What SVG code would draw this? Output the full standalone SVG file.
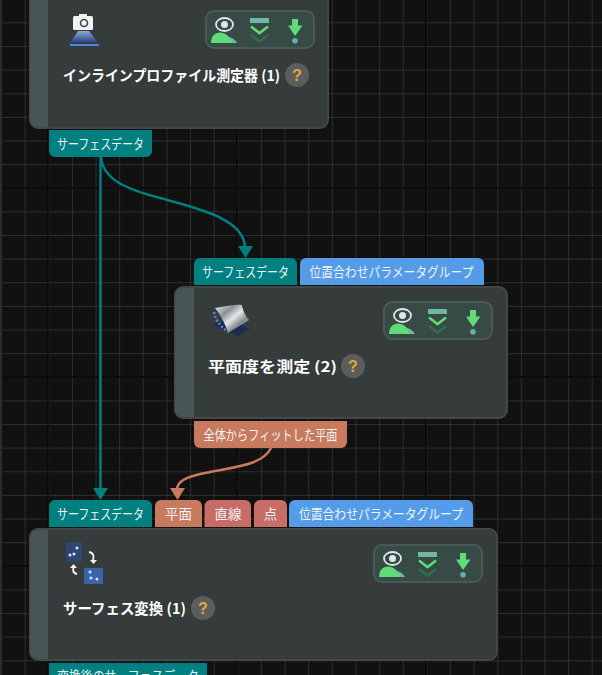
<svg xmlns="http://www.w3.org/2000/svg" xmlns:xlink="http://www.w3.org/1999/xlink" width="602" height="675" viewBox="0 0 602 675">
<style>
.body{fill:#363c3b;stroke:#414847;stroke-width:2}
.strip{fill:#475654}
.title{font-family:"Noto Sans CJK JP","Noto Sans",sans-serif;font-size:14.500px;font-weight:700;fill:#fff}
.port{font-family:"Noto Sans CJK JP","Noto Sans",sans-serif;font-size:13.500px;fill:#eef4f3;text-anchor:middle}
.teal{fill:#008080}.blue{fill:#559ce8}.salmon{fill:#c77a5d}.rose{fill:#c76c66}
.help{fill:#5a5e5d}
.q{font-family:"Liberation Sans",sans-serif;font-size:16px;font-weight:700;fill:#e3a83e;text-anchor:middle}
.conn{fill:none;stroke-width:2.500}
</style>
<defs>
<pattern id="minor" x="1" y="-1.300" width="23.630" height="23.630" patternUnits="userSpaceOnUse">
<path d="M0 0H23.630M0 0V23.630" fill="none" stroke="#373737" stroke-width="1.400"/>
</pattern>
<linearGradient id="beam" x1="0" y1="0" x2="0" y2="1"><stop offset="0" stop-color="#8fa8d8"/><stop offset="1" stop-color="#24407c"/></linearGradient>
<linearGradient id="sheet" x1="0" y1="0" x2="1" y2="1"><stop offset="0" stop-color="#e8e8e8"/><stop offset=".3" stop-color="#8d9197"/><stop offset=".5" stop-color="#e6e6e6"/><stop offset=".7" stop-color="#83878d"/><stop offset="1" stop-color="#c6c8ca"/></linearGradient>
<g id="toolbar">
<rect x="1" y="1" width="108" height="37" rx="8" fill="#374a46" stroke="#475a56" stroke-width="2"/>
<ellipse cx="19.500" cy="14.500" rx="8.500" ry="6.500" fill="none" stroke="#dfe7ea" stroke-width="1.800"/>
<circle cx="19.500" cy="14.500" r="3.500" fill="#dfe7ea"/>
<path d="M15 33C18 25.500 28 25 32 33Z" fill="#6fb8a0"/>
<path d="M6 33C6 26 10 22.500 15 22.500C20 22.500 25 26 27 33Z" fill="#5fdc78"/>
<rect x="45" y="8" width="19" height="5" fill="#6fb8a0"/>
<path d="M46 16.500L54.500 23L63 16.500" fill="none" stroke="#5fdc78" stroke-width="2.600"/>
<path d="M46 25L54.500 31.500L63 25" fill="none" stroke="#2f6e4c" stroke-width="2.600"/>
<path d="M87 9H93V15.500H97.500L90 26L83 15.500H87Z" fill="#5fdc78"/>
<circle cx="90" cy="30.700" r="2.800" fill="#5cb5a0"/>
</g>
</defs>
<rect width="602" height="675" fill="#111"/>
<rect width="602" height="675" fill="url(#minor)"/>
<g stroke="#060606" stroke-width="1.400" fill="none">
<path d="M48 0V675M237 0V675M426 0V675M0 -1H602M0 188H602M0 377H602M0 566H602"/>
</g>
<rect x="0" y="0" width="2" height="675" fill="#2a2d2c"/>
<g id="connectors">
<path class="conn" stroke="#008080" d="M100.500 157V490"/>
<path d="M93 488H108L100.500 500Z" fill="#008080"/>
<path class="conn" stroke="#008080" d="M101 157C103 181 130 190 160 198C195 208 245 218 245 248"/>
<path d="M238 246H253L245.500 258Z" fill="#008080"/>
<path class="conn" stroke="#c77a5d" d="M271 448C262 466 232 467 205 473C186 477 177 481 177 490"/>
<path d="M170 488H185L177.500 500Z" fill="#c77a5d"/>
</g>
<g id="node-inline-profiler">
<path class="body" d="M30 -10H328V120a8 8 0 0 1 -8 8H38a8 8 0 0 1 -8 -8Z"/>
<path class="strip" d="M30 -10H48V127H38a8 8 0 0 1 -8 -8Z"/>
<rect x="73" y="16" width="20" height="14" rx="1.500" fill="#f2f2f2"/>
<rect x="79" y="14" width="8" height="3" fill="#f2f2f2"/>
<circle cx="84" cy="23" r="3.500" fill="none" stroke="#444" stroke-width="1.600"/>
<path d="M78 31H89L98 43H70Z" fill="url(#beam)"/>
<rect x="70" y="44" width="29" height="2" fill="#4f86e0"/>
<use xlink:href="#toolbar" href="#toolbar" transform="translate(205 10)"/>
<text class="title" x="63" y="81" textLength="217" lengthAdjust="spacingAndGlyphs">インラインプロファイル測定器 (1)</text>
<circle class="help" cx="297" cy="75" r="12"/>
<text class="q" x="297" y="81">?</text>
</g>
<g id="port-out-1">
<path class="teal" d="M49 130H152V151a6 6 0 0 1 -6 6H55a6 6 0 0 1 -6 -6Z"/>
<text class="port" x="100.500" y="148.500" textLength="87" lengthAdjust="spacingAndGlyphs">サーフェスデータ</text>
</g>
<g id="port-in-2a">
<path class="teal" d="M194 285V264a6 6 0 0 1 6 -6H291a6 6 0 0 1 6 6V285Z"/>
<text class="port" x="245.500" y="276.500" textLength="87" lengthAdjust="spacingAndGlyphs">サーフェスデータ</text>
</g>
<g id="port-in-2b">
<path class="blue" d="M300 285V264a6 6 0 0 1 6 -6H478a6 6 0 0 1 6 6V285Z"/>
<text class="port" x="391.500" y="277" textLength="164" lengthAdjust="spacingAndGlyphs">位置合わせパラメータグループ</text>
</g>
<g id="node-flatness">
<rect class="body" x="175" y="287" width="332" height="131" rx="8"/>
<path class="strip" d="M183 288H194V417H183a8 8 0 0 1 -8 -8V296a8 8 0 0 1 8 -8Z"/>
<path d="M213 325L238 336L250 329L228 319Z" fill="#1c2c50"/>
<path d="M215 308C223 307 235 304 242 305C243 312 246 316 249 320L228 333C226 325 220 314 215 308Z" fill="url(#sheet)"/>
<path d="M214 312C215 320 222 328 228 332" fill="none" stroke="#4f86e0" stroke-width="2.500" stroke-dasharray="2 2"/>
<use xlink:href="#toolbar" href="#toolbar" transform="translate(383 301)"/>
<text class="title" x="208" y="372" textLength="129" lengthAdjust="spacingAndGlyphs">平面度を測定 (2)</text>
<circle class="help" cx="353" cy="366" r="12"/>
<text class="q" x="353" y="372">?</text>
</g>
<g id="port-out-2">
<path class="salmon" d="M194 421H347V442a6 6 0 0 1 -6 6H200a6 6 0 0 1 -6 -6Z"/>
<text class="port" x="270.500" y="439.500" textLength="134" lengthAdjust="spacingAndGlyphs">全体からフィットした平面</text>
</g>
<g id="port-in-3a">
<path class="teal" d="M49 527V506a6 6 0 0 1 6 -6H146a6 6 0 0 1 6 6V527Z"/>
<text class="port" x="100.500" y="518.500" textLength="87" lengthAdjust="spacingAndGlyphs">サーフェスデータ</text>
</g>
<g id="port-in-3b">
<path class="salmon" d="M155 527V506a6 6 0 0 1 6 -6H196a6 6 0 0 1 6 6V527Z"/>
<text class="port" x="178.500" y="519">平面</text>
</g>
<g id="port-in-3c">
<path class="rose" d="M204.500 527V506a6 6 0 0 1 6 -6H245a6 6 0 0 1 6 6V527Z"/>
<text class="port" x="228" y="519">直線</text>
</g>
<g id="port-in-3d">
<path class="rose" d="M254 527V506a6 6 0 0 1 6 -6H281a6 6 0 0 1 6 6V527Z"/>
<text class="port" x="270.500" y="519">点</text>
</g>
<g id="port-in-3e">
<path class="blue" d="M289 527V506a6 6 0 0 1 6 -6H467a6 6 0 0 1 6 6V527Z"/>
<text class="port" x="381" y="519" textLength="164" lengthAdjust="spacingAndGlyphs">位置合わせパラメータグループ</text>
</g>
<g id="node-surface-transform">
<rect class="body" x="30" y="529" width="467" height="131" rx="8"/>
<path class="strip" d="M38 530H48V659H38a8 8 0 0 1 -8 -8V538a8 8 0 0 1 8 -8Z"/>
<rect x="66" y="542" width="16" height="20" fill="#2f4470"/>
<rect x="84" y="568" width="19" height="16" fill="#3a63ac"/>
<g fill="#dfe6ee"><circle cx="70" cy="555" r="1.500"/><circle cx="74" cy="554" r="1.500"/><circle cx="77" cy="548" r="1.500"/><circle cx="90" cy="572" r="1.500"/><circle cx="91" cy="578" r="1.500"/><circle cx="97" cy="579" r="1.500"/></g>
<path d="M89 552C94 553 94 556 93 561" fill="none" stroke="#f2f2f2" stroke-width="1.800"/>
<path d="M90 560H97L93.500 564Z" fill="#f2f2f2"/>
<path d="M77 574C72 573 73 569 74 566" fill="none" stroke="#f2f2f2" stroke-width="1.800"/>
<path d="M70 568H77L73.500 564Z" fill="#f2f2f2"/>
<use xlink:href="#toolbar" href="#toolbar" transform="translate(373 544)"/>
<text class="title" x="63" y="614" textLength="123" lengthAdjust="spacingAndGlyphs">サーフェス変換 (1)</text>
<circle class="help" cx="203" cy="608" r="12"/>
<text class="q" x="203" y="614">?</text>
</g>
<g id="port-out-3">
<path class="teal" d="M49 663H207V685H49Z"/>
<text class="port" x="128" y="681" textLength="142" lengthAdjust="spacingAndGlyphs">変換後のサーフェスデータ</text>
</g>
</svg>
